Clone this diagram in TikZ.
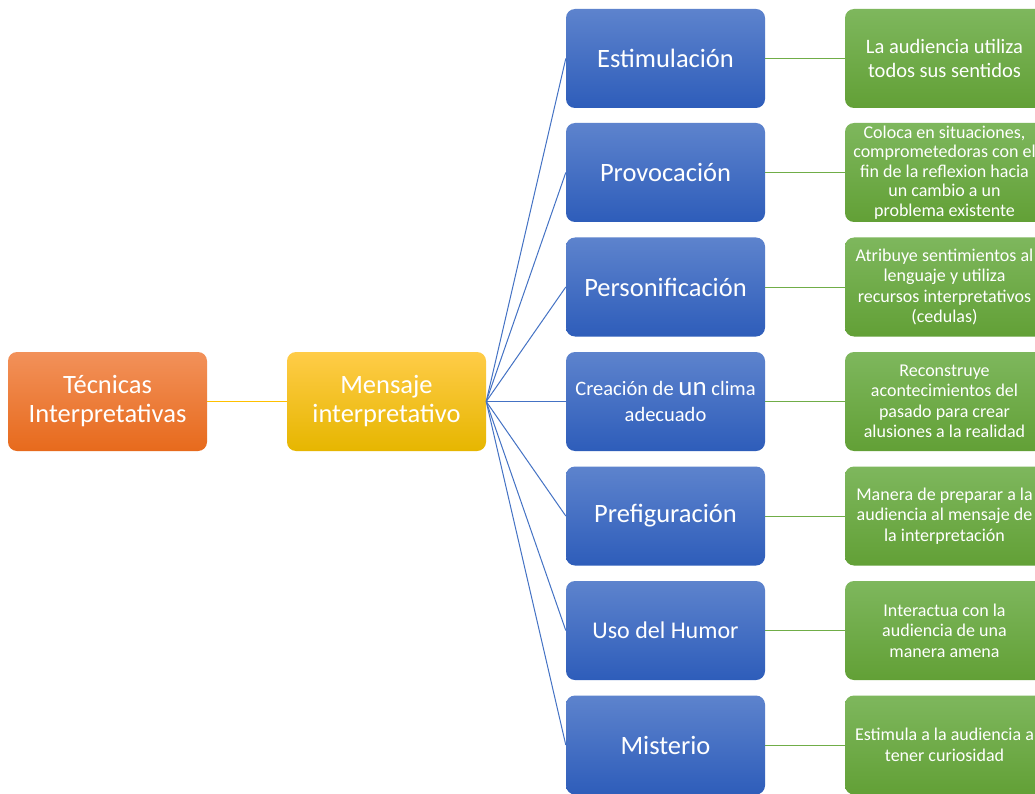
\documentclass[tikz,border=0pt]{standalone}
\usepackage{fontspec}
\setmainfont{Carlito}
\definecolor{orT}{RGB}{242,145,90}
\definecolor{orB}{RGB}{231,106,28}
\definecolor{yeT}{RGB}{255,204,72}
\definecolor{yeB}{RGB}{230,182,0}
\definecolor{blT}{RGB}{93,131,205}
\definecolor{blB}{RGB}{46,93,186}
\definecolor{grT}{RGB}{126,183,93}
\definecolor{grB}{RGB}{98,160,54}
\definecolor{lnBlue}{RGB}{68,114,196}
\definecolor{lnGreen}{RGB}{112,173,71}
\definecolor{lnYellow}{RGB}{255,192,0}
\newcommand\fsBig{\fontsize{26.5}{29}\selectfont}
\newcommand\fsHum{\fontsize{24}{28}\selectfont}
\newcommand\fsGreenA{\fontsize{20.5}{24}\selectfont}
\newcommand\fsGreen{\fontsize{18}{20.5}\selectfont}
\tikzset{
  box/.style={rounded corners=9pt, minimum width=199pt, minimum height=99pt,
    text=white, align=center, inner sep=0pt},
  orangebox/.style={box, top color=orT, bottom color=orB},
  yellowbox/.style={box, top color=yeT, bottom color=yeB},
  bluebox/.style={box, top color=blT, bottom color=blB},
  greenbox/.style={box, top color=grT, bottom color=grB, font=\fsGreen},
  blueline/.style={draw=lnBlue, line width=1pt},
  greenline/.style={draw=lnGreen, line width=1pt},
  yellowline/.style={draw=lnYellow, line width=1.5pt}
}
\begin{document}
\begin{tikzpicture}[x=1pt,y=-1pt]
\clip (0,0) rectangle (1035,794);
\fill[white] (0,0) rectangle (1035,794);

\node[orangebox, font=\fsBig] (tec) at (107.5,401.5) {Técnicas\\Interpretativas};
\node[yellowbox, font=\fsBig] (men) at (386.5,401.5) {Mensaje\\interpretativo};

\node[bluebox, font=\fsBig] (b1) at (665.5,58.5) {Estimulación};
\node[bluebox, font=\fsBig] (b2) at (665.5,172.5) {Provocación};
\node[bluebox, font=\fsBig] (b3) at (665.5,287) {Personificación};
\node[bluebox, font=\fontsize{20.5}{26}\selectfont] (b4) at (665.5,401.5) {Creación de {\fontsize{27}{26}\selectfont un} clima\\adecuado};
\node[bluebox, font=\fsBig] (b5) at (665.5,516) {Prefiguración};
\node[bluebox, font=\fsHum] (b6) at (665.5,630.5) {Uso del Humor};
\node[bluebox, font=\fsBig] (b7) at (665.5,745) {Misterio};

\node[greenbox, font=\fsGreenA] (g1) at (944.5,58.5) {La audiencia utiliza\\todos sus sentidos};
\node[greenbox, font=\fontsize{18}{19.5}\selectfont] (g2) at (944.5,172.5) {Coloca en situaciones,\\comprometedoras con el\\fin de la reflexion hacia\\un cambio a un\\problema existente};
\node[greenbox] (g3) at (944.5,287) {Atribuye sentimientos al\\lenguaje y utiliza\\recursos interpretativos\\(cedulas)};
\node[greenbox] (g4) at (944.5,401.5) {Reconstruye\\acontecimientos del\\pasado para crear\\alusiones a la realidad};
\node[greenbox] (g5) at (944.5,516) {Manera de preparar a la\\audiencia al mensaje de\\la interpretación};
\node[greenbox] (g6) at (944.5,630.5) {Interactua con la\\audiencia de una\\manera amena};
\node[greenbox] (g7) at (944.5,745) {Estimula a la audiencia a\\tener curiosidad};

\draw[yellowline] (tec.east) -- (men.west);
\foreach \i in {1,...,7}{
  \draw[blueline] (men.east) -- (b\i.west);
  \draw[greenline] (b\i.east) -- (g\i.west);
}
\end{tikzpicture}
\end{document}
